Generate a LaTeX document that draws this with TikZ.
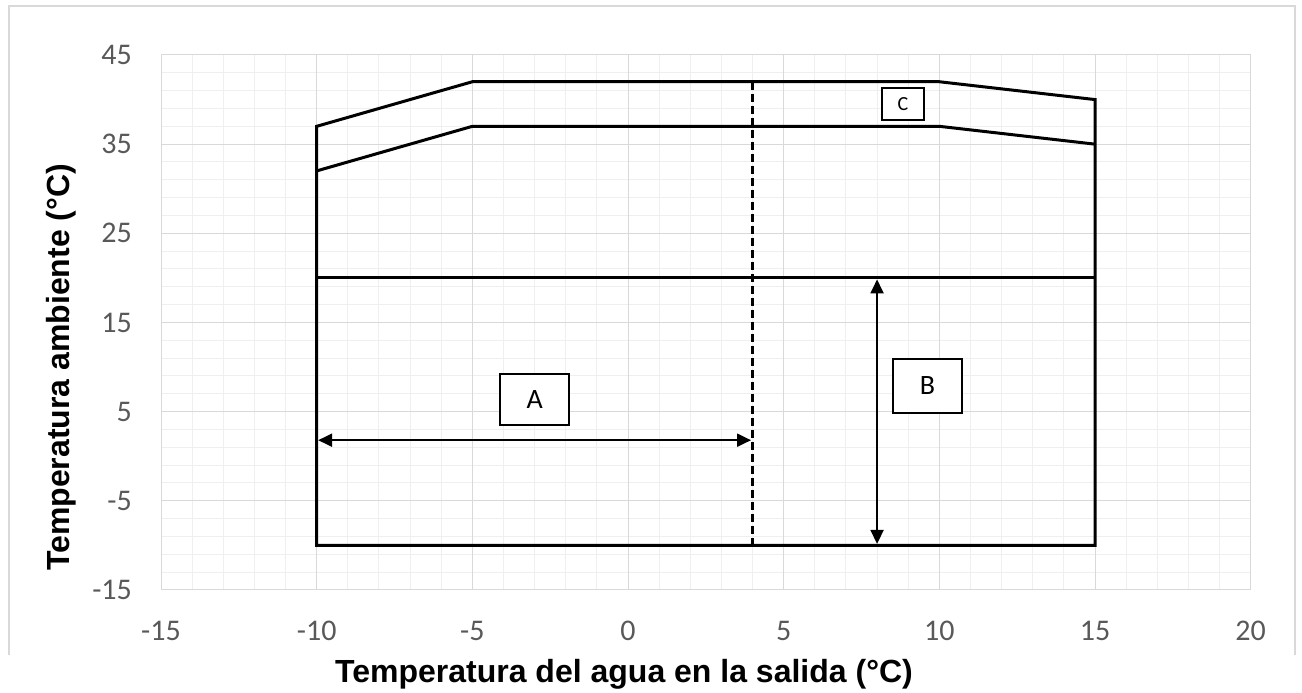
\documentclass[tikz,border=0pt]{standalone}
\usepackage{fontspec}
\setmainfont{Carlito}
\newfontfamily\arialb{Liberation Sans}
\usetikzlibrary{arrows.meta}
\definecolor{majgrid}{HTML}{D9D9D9}
\definecolor{mingrid}{HTML}{EFEFEF}
\definecolor{ticktxt}{HTML}{595959}
\begin{document}
\begin{tikzpicture}[x=1pt,y=1pt,
  tick/.style={font=\fontsize{30}{30}\selectfont, text=ticktxt, inner sep=0},
  ttl/.style={font=\arialb\bfseries\fontsize{32}{32}\selectfont, inner sep=0},
  lbl/.style={draw, line width=2pt, fill=white, inner sep=0, font=\fontsize{28}{28}\selectfont},
  env/.style={line width=3pt, line join=miter},
  dashln/.style={line width=3pt, dash pattern=on 8pt off 4pt},
  dim/.style={line width=2pt, shorten <=1.5pt, shorten >=1.5pt,
    {Triangle[length=14pt,width=13pt]}-{Triangle[length=14pt,width=13pt]}}]
\useasboundingbox (0,0) rectangle (1302,693);
\fill[white] (0,0) rectangle (1302,693);
\draw[majgrid, line width=1.5pt] (9,38) -- (9,687) -- (1295,687) -- (1295,38);
\begin{scope}[shift={(628pt,236.75pt)}, x=31.133pt, y=8.9167pt]
  % minor grid
  \foreach \i in {-14,...,19} \draw[mingrid, line width=1pt] (\i,-15) -- (\i,45);
  \foreach \j in {-13,-11,...,43} \draw[mingrid, line width=1pt] (-15,\j) -- (20,\j);
  % major grid
  \foreach \i in {-15,-10,...,20} \draw[majgrid, line width=1pt] (\i,-15) -- (\i,45);
  \foreach \j in {-15,-5,...,45} \draw[majgrid, line width=1pt] (-15,\j) -- (20,\j);
  % tick labels
  \foreach \v [count=\k] in {-15,-10,...,20}
    \node[tick, anchor=base] (xt\k) at (\v,-20.61) {\v};
  \foreach \v [count=\k] in {-15,-5,...,45}
    \node[tick, anchor=base east] (yt\k) at (-15.93,\v-1.07) {\v};
  % envelope
  \draw[env] (-10,37) -- (-5,42) -- (10,42) -- (15,40) -- (15,-10) -- (-10,-10) -- cycle;
  \draw[env] (-10,32) -- (-5,37) -- (10,37) -- (15,35);
  \draw[env] (-10,20) -- (15,20);
  \draw[dashln] (4,42) -- (4,-10);
  % dimension arrows
  \coordinate (aL) at (-10,1.8);
  \coordinate (aR) at (4,1.8);
  \coordinate (bB) at (8,-10);
  \coordinate (bT) at (8,20);
  \draw[dim] (aL) -- (aR);
  \draw[dim] (bB) -- (bT);
  % labels
  \node[lbl, minimum width=69pt, minimum height=51pt] (boxA) at (-3.0,6.36) {A};
  \node[lbl, minimum width=69pt, minimum height=54pt] (boxB) at (9.62,7.88) {B};
  \node[lbl, minimum width=42pt, minimum height=32pt, font=\fontsize{20}{20}\selectfont] (boxC) at (8.83,39.5) {C};
\end{scope}
\node[ttl, anchor=base] (xtitle) at (624,10) {Temperatura del agua en la salida (°C)};
\node[ttl, rotate=90, anchor=base] (ytitle) at (69,325.5) {Temperatura ambiente (°C)};
\end{tikzpicture}
\end{document}
